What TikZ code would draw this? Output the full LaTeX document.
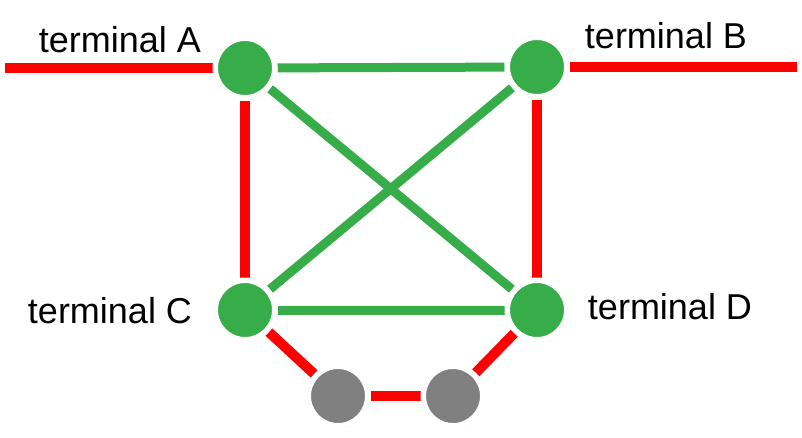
\documentclass[tikz,border=0pt]{standalone}
\usepackage{fontspec}
\setmainfont{Liberation Sans}
\usetikzlibrary{backgrounds,shadows}
\definecolor{termgreen}{RGB}{55,173,74}
\definecolor{relaygray}{RGB}{128,128,128}
\begin{document}
\begin{tikzpicture}[x=1pt, y=-1pt]
\useasboundingbox (0,0) rectangle (802,437);
\begin{scope}[every node/.style = {circle, draw=white, line width=5.5pt, minimum size=59.5pt, inner sep=0pt,
  drop shadow={shadow xshift=1pt, shadow yshift=-2.5pt, opacity=0.25}}]
\node[fill=termgreen] (a) at (245, 68) {};
\node[fill=termgreen] (b) at (537, 67) {};
\node[fill=termgreen] (c) at (245, 310) {};
\node[fill=termgreen] (d) at (537, 310) {};
\node[fill=relaygray] (e) at (338, 396) {};
\node[fill=relaygray] (f) at (453, 396) {};
\end{scope}
\coordinate (la) at (5, 68);
\coordinate (rb) at (797, 67);
\begin{scope}[every node/.style = {anchor=base, font=\fontsize{36}{40}\selectfont}]
\node (ta) at (120, 52) {terminal A};
\node (tb) at (666, 48) {terminal B};
\node (tc) at (110, 323) {terminal C};
\node (td) at (670, 319) {terminal D};
\end{scope}
\begin{scope}[on background layer, every edge/.style = {draw, red, line width=10pt}]
\path (la) edge (a);
\path (b) edge (rb);
\path (a) edge (c);
\path (b) edge (d);
\path (c) edge (e);
\path (e) edge (f);
\path (f) edge (d);
\end{scope}
\begin{scope}[on background layer, every edge/.style = {draw, termgreen, line width=9pt}]
\path (a) edge (b);
\path (a) edge (d);
\path (b) edge (c);
\path (c) edge (d);
\end{scope}
\end{tikzpicture}
\end{document}
